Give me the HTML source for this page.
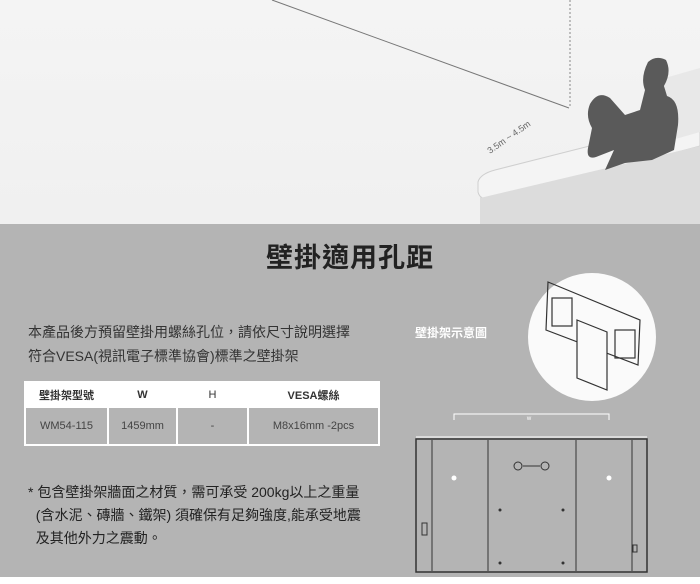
<!DOCTYPE html>
<html><head><meta charset="utf-8"><style>
body{margin:0;width:700px;height:584px;overflow:hidden;background:#fff;font-family:"Liberation Sans","Noto Sans CJK TC",sans-serif;}
.top{position:absolute;left:0;top:0;width:700px;height:224px;background:linear-gradient(#f4f4f4,#f0f0f0);}
.gray{position:absolute;left:0;top:224px;width:700px;height:353px;background:#b4b4b4;}
.t{position:absolute;white-space:nowrap;color:#333;}
table{position:absolute;left:24px;top:381px;border-collapse:collapse;font-size:11px;color:#444;}
td{border:2px solid #fff;text-align:center;}
</style></head><body>
<div class="top"></div>
<svg style="position:absolute;left:0;top:0" width="700" height="224">
<line x1="272" y1="0" x2="569" y2="108" stroke="#777" stroke-width="1"/>
<line x1="570" y1="0" x2="570" y2="108" stroke="#888" stroke-dasharray="2,2"/>
<text x="0" y="0" font-size="9" fill="#666" transform="translate(490,154) rotate(-35)" font-family="Liberation Sans">3.5m ~ 4.5m</text>
<path d="M480 178 L700 120 L700 224 L480 224 Z" fill="#e4e4e4"/>
<path d="M478 182 Q480 174 495 170 L700 118 L700 146 L500 200 Q480 202 478 192 Z" fill="#f4f4f4" stroke="#cfcfcf"/>
<path d="M480 198 L700 146 L700 224 L480 224 Z" fill="#dcdcdc"/>
<path d="M665 78 L700 68 L700 132 L665 142 Z" fill="#e8e8e8"/>
<path d="M648 62 Q656 55 666 60 Q672 72 664 86 L667 96 Q680 100 678 125 L674 150 L652 160 L625 163 L605 170 L614 150 L596 157 Q586 160 588 148 L592 128 Q585 116 590 104 Q598 90 610 98 L625 115 L640 110 L645 90 Q640 78 648 62 Z" fill="#5a5a5a"/>
</svg>
<div class="gray"></div>
<div class="t" style="left:0;width:700px;text-align:center;top:236px;font-size:27px;font-weight:bold;color:#222;letter-spacing:1px">壁掛適用孔距</div>
<div class="t" style="left:28px;top:320px;font-size:14px;line-height:24px;color:#333">本產品後方預留壁掛用螺絲孔位，請依尺寸說明選擇<br>符合VESA(視訊電子標準協會)標準之壁掛架</div>
<table>
<tr style="background:#fff;height:25px;font-weight:bold;color:#333"><td style="width:79px">壁掛架型號</td><td style="width:65px">W</td><td style="width:67px;font-weight:normal">H</td><td style="width:127px">VESA螺絲</td></tr>
<tr style="height:38px"><td>WM54-115</td><td>1459mm</td><td>-</td><td>M8x16mm -2pcs</td></tr>
</table>
<div class="t" style="left:28px;top:481px;font-size:14px;line-height:23px;color:#222">* 包含壁掛架牆面之材質，需可承受 200kg以上之重量<br>&nbsp;&nbsp;(含水泥、磚牆、鐵架) 須確保有足夠強度,能承受地震<br>&nbsp;&nbsp;及其他外力之震動。</div>
<div class="t" style="left:415px;top:324px;font-size:12px;color:#fff;font-weight:bold">壁掛架示意圖</div>
<svg style="position:absolute;left:0;top:0" width="700" height="584">
<circle cx="592" cy="337" r="64" fill="#fafafa"/>
<g fill="none" stroke="#333" stroke-width="1.2">
<path d="M548 282 L640 320 L638 365 L546 330 Z"/>
<rect x="552" y="298" width="20" height="28"/>
<rect x="615" y="330" width="20" height="28"/>
<path d="M577 320 L607 332 L607 390 L577 378 Z" fill="#fafafa"/>
</g>
<g fill="none" stroke="#fff" stroke-width="1">
<path d="M454 420 L454 414 L609 414 L609 420"/>
<line x1="416" y1="437" x2="647" y2="437"/>
</g>
<g fill="none" stroke="#333" stroke-width="1">
<rect x="416" y="439" width="231" height="133" stroke-width="1.5"/>
<line x1="432" y1="440" x2="432" y2="571"/>
<line x1="488" y1="440" x2="488" y2="571"/>
<line x1="576" y1="440" x2="576" y2="571"/>
<line x1="632" y1="440" x2="632" y2="571"/>
<circle cx="518" cy="466" r="4"/><circle cx="545" cy="466" r="4"/>
<line x1="523" y1="466" x2="540" y2="466"/>
<rect x="422" y="523" width="5" height="12"/>
<rect x="633" y="545" width="4" height="7"/>
</g>
<g fill="#fff"><circle cx="454" cy="478" r="2.5"/><circle cx="609" cy="478" r="2.5"/></g>
<g fill="#333"><circle cx="500" cy="510" r="1.5"/><circle cx="563" cy="510" r="1.5"/><circle cx="500" cy="563" r="1.5"/><circle cx="563" cy="563" r="1.5"/></g>
<text x="529" y="420" font-size="6" fill="#fff" text-anchor="middle" font-family="Liberation Sans">w</text>
</svg>
</body></html>
